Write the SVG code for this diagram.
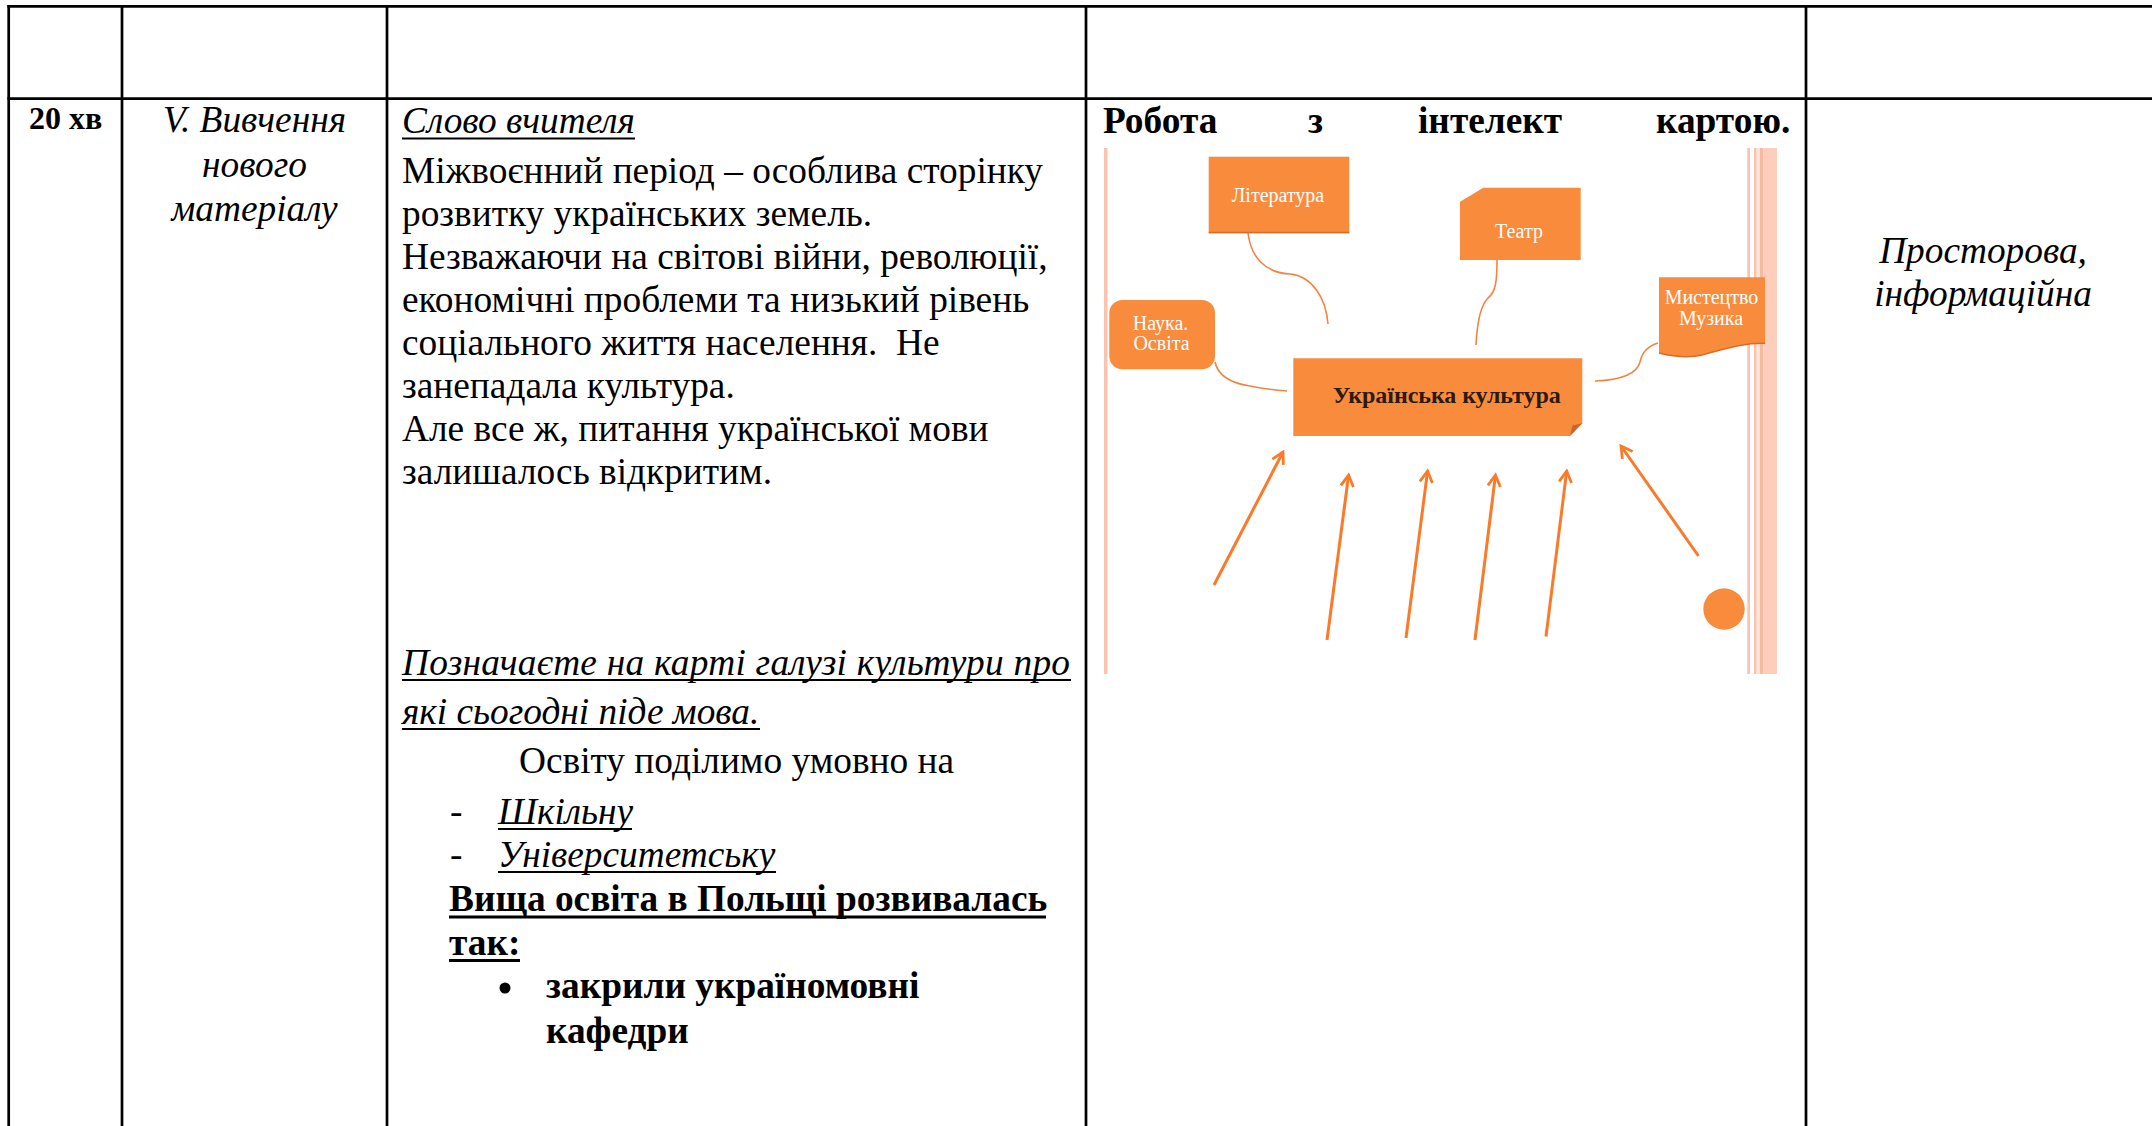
<svg xmlns="http://www.w3.org/2000/svg" width="2152" height="1126" viewBox="0 0 2152 1126">
<style>
  .grid { stroke: #000; stroke-width: 2.7; fill: none; }
  .t { font-family: "Liberation Serif", "Times New Roman", serif; fill: #000; }
  .body { font-size: 37.33px; }
  .it { font-style: italic; }
  .b { font-weight: bold; }
  .ul { stroke: #000; stroke-width: 2; }
  .ulb { stroke: #000; stroke-width: 3; }
  .box { fill: #f98b3d; }
  .boxedge { stroke: #d56d2a; stroke-width: 1.5; fill: none; }
  .lbl { font-family: "Liberation Serif", "Times New Roman", serif; fill: #fff; font-size: 20px; text-anchor: middle; }
  .conn { stroke: #f3843f; stroke-width: 1.6; fill: none; }
  .arr { stroke: #fb7a2a; stroke-width: 3; fill: none; marker-end: url(#ah); }
</style>
<defs>
  <marker id="ah" viewBox="0 0 12 12" refX="10" refY="6" markerWidth="5" markerHeight="5" orient="auto" markerUnits="strokeWidth">
    <path d="M1,1 L10,6 L1,11" fill="none" stroke="#fb7a2a" stroke-width="2.2"/>
  </marker>
</defs>
<rect width="2152" height="1126" fill="#fff"/>

<g id="table">
  <line class="grid" x1="7.4" y1="6.3" x2="2152" y2="6.3"/>
  <line class="grid" x1="7.4" y1="98.7" x2="2152" y2="98.7"/>
  <line class="grid" x1="8.7" y1="5" x2="8.7" y2="1126"/>
  <line class="grid" x1="122" y1="5" x2="122" y2="1126"/>
  <line class="grid" x1="387" y1="5" x2="387" y2="1126"/>
  <line class="grid" x1="1086" y1="5" x2="1086" y2="1126"/>
  <line class="grid" x1="1806" y1="5" x2="1806" y2="1126"/>
</g>

<g id="col-time">
  <text class="t b" x="29" y="129" font-size="32px">20 хв</text>
</g>

<g id="col-stage">
  <text class="t it body" x="254.5" y="132" text-anchor="middle">V. Вивчення</text>
  <text class="t it body" x="254.5" y="176.5" text-anchor="middle">нового</text>
  <text class="t it body" x="254.5" y="221" text-anchor="middle">матеріалу</text>
</g>

<g id="col-content">
  <text class="t body it" x="402" y="133">Слово вчителя</text>
  <line class="ul" x1="402" y1="138.5" x2="635" y2="138.5"/>
  <text class="t body" x="402" y="182.5">Міжвоєнний період – особлива сторінку</text>
  <text class="t body" x="402" y="225.5">розвитку українських земель.</text>
  <text class="t body" x="402" y="268.5">Незважаючи на світові війни, революції,</text>
  <text class="t body" x="402" y="311.5">економічні проблеми та низький рівень</text>
  <text class="t body" x="402" y="354.5" xml:space="preserve">соціального життя населення.  Не</text>
  <text class="t body" x="402" y="397.5">занепадала культура.</text>
  <text class="t body" x="402" y="440.5">Але все ж, питання української мови</text>
  <text class="t body" x="402" y="483.5">залишалось відкритим.</text>

  <text class="t body it" x="402" y="675" textLength="668" lengthAdjust="spacing">Позначаєте на карті галузі культури про</text>
  <line class="ul" x1="402" y1="680" x2="1071" y2="680"/>
  <text class="t body it" x="402" y="724">які сьогодні піде мова.</text>
  <line class="ul" x1="402" y1="729" x2="760" y2="729"/>
  <text class="t body" x="519" y="773">Освіту поділимо умовно на</text>
  <text class="t body" x="450" y="824">-</text>
  <text class="t body it" x="498" y="824">Шкільну</text>
  <line class="ul" x1="498" y1="829" x2="632" y2="829"/>
  <text class="t body" x="450" y="867">-</text>
  <text class="t body it" x="498" y="867">Університетську</text>
  <line class="ul" x1="498" y1="872" x2="776" y2="872"/>
  <text class="t body b" x="449" y="911">Вища освіта в Польщі розвивалась</text>
  <line class="ulb" x1="449" y1="917" x2="1046" y2="917"/>
  <text class="t body b" x="449" y="955">так:</text>
  <line class="ulb" x1="449" y1="960.5" x2="520" y2="960.5"/>
  <circle cx="505" cy="988" r="5.5" fill="#000"/>
  <text class="t body b" x="546" y="997.5">закрили україномовні</text>
  <text class="t body b" x="546" y="1042.5">кафедри</text>
</g>

<g id="col-map">
  <text class="t body b" x="1103" y="133">Робота</text>
  <text class="t body b" x="1308" y="133">з</text>
  <text class="t body b" x="1418" y="133">інтелект</text>
  <text class="t body b" x="1656" y="133">картою.</text>

  <g id="frame">
    <rect x="1104" y="148" width="3.5" height="526" fill="#fbc3ad"/>
    <rect x="1747.3" y="148" width="2.7" height="526" fill="#f9c3ad"/>
    <rect x="1754" y="148" width="2.7" height="526" fill="#f9c3ad"/>
    <rect x="1756.7" y="148" width="3.3" height="526" fill="#fde4da"/>
    <rect x="1760" y="148" width="3.3" height="526" fill="#f7b9a0"/>
    <rect x="1763.3" y="148" width="13.7" height="526" fill="#fccebb"/>
  </g>

  <g id="connectors">
    <path class="conn" d="M1248,233 C1251,258 1266,273 1290,274 C1312,276 1326,298 1328,324"/>
    <path class="conn" d="M1497,260 C1497,280 1496,292 1488,298 C1480,306 1477,325 1476,345"/>
    <path class="conn" d="M1215,362 C1218,376 1230,383 1250,386 C1265,389 1275,390 1287,391"/>
    <path class="conn" d="M1658,343 C1648,346 1642,352 1640,362 C1637,374 1620,380 1595,381"/>
    <path class="arr" d="M1214,585 L1283,452"/>
    <path class="arr" d="M1327,640 L1348.6,475"/>
    <path class="arr" d="M1406,638 L1427.6,471"/>
    <path class="arr" d="M1475,640 L1495.5,475"/>
    <path class="arr" d="M1546,636.5 L1566.7,471"/>
    <path class="arr" d="M1698.5,556 L1621,446"/>
  </g>

  <g id="node-literatura">
    <rect class="box" x="1208.7" y="156.7" width="140.6" height="76.6"/>
    <line class="boxedge" x1="1208.7" y1="232.5" x2="1349.3" y2="232.5"/>
    <text class="lbl" x="1278" y="201.7">Література</text>
  </g>
  <g id="node-teatr">
    <path class="box" d="M1483.3,187.7 H1580.7 V260 H1460 V201.7 Z"/>
    <text class="lbl" x="1519" y="238.3">Театр</text>
  </g>
  <g id="node-nauka">
    <rect class="box" x="1109.3" y="300" width="105.7" height="69.3" rx="13"/>
    <text class="lbl" x="1160.5" y="330">Наука.</text>
    <text class="lbl" x="1161.5" y="350">Освіта</text>
  </g>
  <g id="node-mystetstvo">
    <path class="box" d="M1659,277.3 H1765 V343.3 C1740,343 1722,350 1702,355 C1686,359 1671,356 1659,353 Z"/>
    <path class="boxedge" d="M1765,343.3 C1740,343 1722,350 1702,355 C1686,359 1671,356 1659,353"/>
    <text class="lbl" x="1711.5" y="304" font-size="18px">Мистецтво</text>
    <text class="lbl" x="1711" y="325" font-size="18px">Музика</text>
  </g>
  <g id="node-kultura">
    <path class="box" d="M1293.3,358.3 H1582.3 V423.3 L1570,436 H1293.3 Z"/>
    <path d="M1582.3,423.3 L1572.5,425.5 L1570,436 Z" fill="#c9652a"/>
    <text x="1446.7" y="403.3" font-family="Liberation Serif, Times New Roman, serif" font-size="24px" font-weight="bold" fill="#2a1a10" text-anchor="middle" textLength="228" lengthAdjust="spacing">Українська культура</text>
  </g>
  <g id="node-circle">
    <circle cx="1724" cy="609" r="20.7" fill="#f98b3d"/>
  </g>
</g>

<g id="col-competence">
  <text class="t it body" x="1983" y="263" text-anchor="middle">Просторова,</text>
  <text class="t it body" x="1983" y="306" text-anchor="middle">інформаційна</text>
</g>
</svg>
